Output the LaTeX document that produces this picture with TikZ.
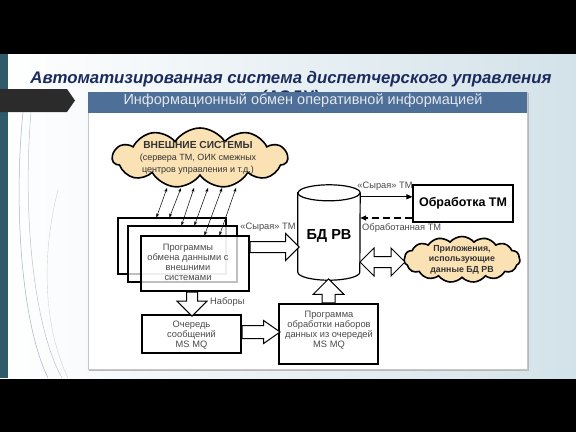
\documentclass[tikz,border=0pt]{standalone}
\usepackage{fontspec}
\setmainfont{Liberation Sans}
\usetikzlibrary{shapes.symbols,shapes.arrows,arrows.meta,positioning}

\definecolor{navytitle}{HTML}{1C2B5E}
\definecolor{headband}{HTML}{4E6F97}
\definecolor{headtext}{HTML}{E4E8EE}
\definecolor{cloudfill}{HTML}{FBE2B4}
\definecolor{slidebg}{HTML}{D3E2E9}
\definecolor{tealbar}{HTML}{2E5A6A}
\definecolor{chevron}{HTML}{2B2B2B}
\definecolor{boxtext}{HTML}{4A4A4A}

\tikzset{
  boxnode/.style={draw=black, line width=1.1pt, fill=white, fill opacity=0.75, inner sep=0pt},
  boxlabel/.style={text=boxtext, font=\fontsize{9.3}{10}\selectfont, align=center},
  edgelabel/.style={text=boxtext, font=\fontsize{9.3}{10}\selectfont, inner sep=1pt},
  cloudnode/.style={cloud, cloud puffs=11, cloud puff arc=115, draw=black, line width=1.6pt, fill=cloudfill, inner sep=0pt},
  fatarrow/.style={single arrow, draw=black, line width=1pt, fill=white, inner xsep=0pt, inner ysep=5pt, single arrow head extend=8pt},
  fatdouble/.style={double arrow, draw=black, line width=1pt, fill=white, inner xsep=0pt, inner ysep=5pt, double arrow head extend=8.5pt},
  thinarrow/.style={{Stealth[length=4pt,width=3pt]}-{Stealth[length=4pt,width=3pt]}, line width=0.5pt},
  rawarrow/.style={-{Triangle[length=6pt,width=5pt]}, line width=1pt},
  backarrow/.style={-{Triangle[length=6pt,width=5pt]}, line width=1.3pt, dash pattern=on 7pt off 4pt}
}

\begin{document}
\begin{tikzpicture}[x=1pt, y=-1pt]
  \useasboundingbox (0,0) rectangle (576,432);
  % slide
  \fill[black] (0,0) rectangle (576,54);
  \fill[black] (0,378) rectangle (576,432);
  \shade[left color=white, right color=slidebg] (0,54) rectangle (576,378);
  \fill[tealbar] (0,54) rectangle (8,378);
  \draw[tealbar!45, line width=0.5pt] (23,112) .. controls (14,200) and (20,320) .. (48,378);
  \draw[tealbar!35, line width=0.5pt] (31,112) .. controls (22,220) and (35,330) .. (62,378);
  \draw[tealbar!25, line width=0.4pt] (58,190) .. controls (40,260) and (45,330) .. (68,378);
  % title
  \node[anchor=base, font=\bfseries\itshape\fontsize{16.8}{20}\selectfont, text=navytitle, inner sep=0pt] (title) at (291,83) {Автоматизированная система диспетчерского управления};
  \node[anchor=base, font=\bfseries\itshape\fontsize{16.8}{20}\selectfont, text=navytitle, inner sep=0pt] (title2) at (290,102.5) {(АСДУ)};
  \fill[chevron] (0,89) -- (67,89) -- (75,100.5) -- (67,112) -- (0,112) -- cycle;

  % frame
  \draw[gray!55, line width=1.4pt] (89,370) -- (528,370) -- (528,93);
  \fill[white] (88,92) rectangle (527,369);
  \draw[gray!45, line width=0.5pt] (88,92) rectangle (527,369);
  \fill[headband] (88,92) rectangle (527,113);
  \node[anchor=base, font=\fontsize{14.5}{17}\selectfont, text=headtext, inner sep=0pt] (head) at (303,104.5) {Информационный обмен оперативной информацией};

  % external systems
  \node[cloudnode, minimum width=175pt, minimum height=60pt] (cloudext) at (200,158) {};
  \node[align=center, text=black!80, inner sep=0pt] (cloudexttext) at (198,157.5)
    {{\bfseries\fontsize{10.2}{10}\selectfont ВНЕШНИЕ СИСТЕМЫ}\\[0pt]
     {\fontsize{9}{10}\selectfont (сервера ТМ, ОИК смежных}\\[0pt]
     {\fontsize{9}{10}\selectfont центров управления и т.д.)}};

  % exchange programs
  \node[boxnode, minimum width=108pt, minimum height=56pt] (prog1) at (172,246) {};
  \node[boxnode, minimum width=109pt, minimum height=56pt] (prog2) at (182.5,254) {};
  \node[boxnode, minimum width=108pt, minimum height=55pt] (prog3) at (195,263.5) {};
  \node[boxlabel] (progtext) at (188,262) {Программы\\обмена данными с\\внешними\\системами};

  \foreach \dx/\prog/\tx in {39/prog1/167, 52/prog1/181, 54/prog2/194, 67/prog2/208, 64/prog3/222, 79/prog3/236}
    \draw[thinarrow] ([xshift=\dx pt]\prog.north west) -- (\tx,188);

  % database
  \node[minimum width=62pt, minimum height=95pt, inner sep=0pt] (db) at (329,232.5) {};
  \draw[line width=1.2pt, fill=white] ([yshift=-8pt]db.north west) -- ([yshift=8pt]db.south west)
    arc[start angle=180, end angle=360, x radius=31pt, y radius=8pt] -- ([yshift=-8pt]db.north east)
    arc[start angle=0, end angle=180, x radius=31pt, y radius=8pt] -- cycle;
  \draw[line width=1.2pt] ([yshift=-8pt]db.north west) arc[start angle=180, end angle=360, x radius=31pt, y radius=8pt];
  \node[font=\bfseries\fontsize{14.5}{16}\selectfont] (dbtext) at ([yshift=-3pt]db.center) {БД РВ};

  % TM processing
  \node[draw=black, line width=1.1pt, minimum width=100pt, minimum height=37pt, inner sep=0pt,
        font=\bfseries\fontsize{12.5}{14}\selectfont] (proc) at (463,203.5) {Обработка ТМ};
  \draw[rawarrow] ([yshift=-12pt]db.north east) -- ([yshift=-12pt]db.north east -| proc.west);
  \node[edgelabel] (rawlabel) at (385,186) {«Сырая» ТМ};
  \draw[backarrow] ([yshift=-14.5pt]proc.west) -- ([yshift=-14.5pt]proc.west -| db.east);
  \node[edgelabel, anchor=west] (donelabel) at (361,228) {Обработанная ТМ};

  % applications
  \node[cloudnode, cloud puffs=15, cloud puff arc=100, minimum width=116pt, minimum height=46pt] (apps) at (462,259.5) {};
  \node[align=center, text=black!80, font=\bfseries\fontsize{8.8}{10.5}\selectfont, inner sep=0pt] (appstext) at (apps) {Приложения,\\использующие\\данные БД РВ};
  \node[fatdouble, minimum height=45pt] (dbapps) at (382.5,262) {};

  % raw TM into database
  \node[fatarrow, minimum height=49pt, anchor=tail] (rawin) at ([yshift=16.5pt]prog3.east) {};
  \node[edgelabel] (rawinlabel) at (268,227) {«Сырая» ТМ};

  % queue and handler
  \node[boxnode, minimum width=99pt, minimum height=38pt] (queue) at (191.5,334) {};
  \node[boxlabel, text depth=0pt] (queuetext) at (queue) {Очередь\\сообщений\\MS MQ};
  \node[boxnode, minimum width=99pt, minimum height=60pt] (handler) at (328.5,334) {};
  \node[boxlabel] (handlertext) at (329,330) {Программа\\обработки наборов\\данных из очередей\\MS MQ};

  \node[fatarrow, minimum height=24pt, rotate=-90, anchor=tail, single arrow head extend=9.5pt] (sets) at ([xshift=-3pt]prog3.south) {};
  \node[edgelabel, anchor=west] (setslabel) at (209,302) {Наборы};
  \node[fatarrow, minimum height=38pt, anchor=tail, inner ysep=6pt, single arrow head extend=5pt, single arrow tip angle=70] (queuearr) at ([yshift=2pt]queue.east) {};
  \node[fatarrow, minimum height=24pt, rotate=90, anchor=tail, inner ysep=6pt, single arrow head extend=9pt] (handlerarr) at (handler.north) {};
\end{tikzpicture}
\end{document}
